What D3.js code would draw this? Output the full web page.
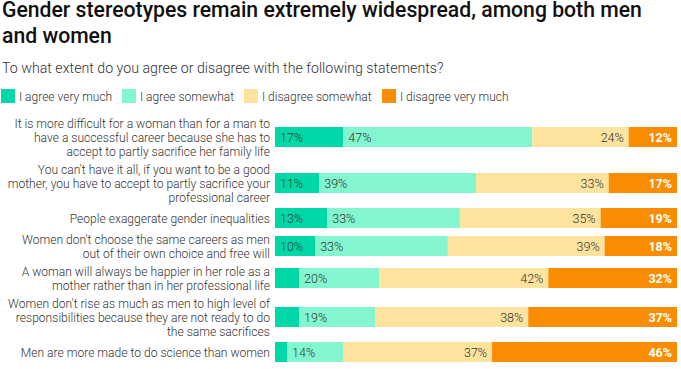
<!DOCTYPE html>
<html>
<head>
<meta charset="utf-8">
<script src="https://cdn.jsdelivr.net/npm/d3@7"></script>
<style>
  html, body { margin: 0; padding: 0; background: #fff; }
  svg { display: block; font-family: Roboto, "Noto Sans", sans-serif; }
</style>
</head>
<body>
<svg id="chart" width="681" height="369"></svg>
<script>
const title = ["Gender stereotypes remain extremely widespread, among both men", "and women"];
const subtitle = "To what extent do you agree or disagree with the following statements?";

const seriesNames = ["I agree very much", "I agree somewhat", "I disagree somewhat", "I disagree very much"];
const seriesColors = ["#00d9a7", "#83f5cf", "#fde39d", "#f98c00"];

const categories = [
  "It is more difficult for a woman than for a man to\nhave a successful career because she has to\naccept to partly sacrifice her family life",
  "You can't have it all, if you want to be a good\nmother, you have to accept to partly sacrifice your\nprofessional career",
  "People exaggerate gender inequalities",
  "Women don't choose the same careers as men\nout of their own choice and free will",
  "A woman will always be happier in her role as a\nmother rather than in her professional life",
  "Women don't rise as much as men to high level of\nresponsibilities because they are not ready to do\nthe same sacrifices",
  "Men are more made to do science than women"
];

const agreeVeryMuch     = [17, 11, 13, 10, 6, 6, 3];
const agreeSomewhat     = [47, 39, 33, 33, 20, 19, 14];
const disagreeSomewhat  = [24, 33, 35, 39, 42, 38, 37];
const disagreeVeryMuch  = [12, 17, 19, 18, 32, 37, 46];

const seriesValues = [agreeVeryMuch, agreeSomewhat, disagreeSomewhat, disagreeVeryMuch];

const svg = d3.select("#chart");

// Title
const t = svg.append("text").attr("font-size", 21.2).attr("font-weight", 500).attr("fill", "#111");
title.forEach((line, i) => {
  t.append("tspan").attr("x", 2).attr("y", 17 + i * 26).text(line);
});

// Subtitle
svg.append("text")
  .attr("x", 2).attr("y", 73)
  .attr("font-size", 14.2).attr("font-weight", 300).attr("fill", "#333")
  .text(subtitle);

// Legend
const legendX = [1, 122, 244, 382];
const lg = svg.append("g").selectAll("g").data(seriesNames).join("g")
  .attr("transform", (d, i) => `translate(${legendX[i]},89)`);
lg.append("rect").attr("width", 14).attr("height", 14).attr("fill", (d, i) => seriesColors[i]);
lg.append("text").attr("x", 18).attr("y", 11.5)
  .attr("font-size", 12).attr("font-weight", 300).attr("fill", "#333").text(d => d);

// Rows layout
const lineH = 14, barH = 20, pad = 4;
const rows = categories.map((c, i) => {
  const lines = c.split("\n");
  return { i, lines, h: Math.max(barH, lines.length * lineH) + pad };
});
let yAcc = 114;
rows.forEach(r => { r.top = yAcc; r.cy = yAcc + r.h / 2; yAcc += r.h; });

const x = d3.scaleLinear().domain([0, 100]).range([275, 677]);

// Stack
const table = categories.map((c, i) => {
  const o = { cat: c };
  seriesNames.forEach((s, k) => o[s] = seriesValues[k][i]);
  return o;
});
const stacked = d3.stack().keys(seriesNames)(table);

// Row labels
const labelG = svg.append("g");
rows.forEach(r => {
  const tx = labelG.append("text")
    .attr("text-anchor", "end").attr("font-size", 12.1).attr("font-weight", 300).attr("fill", "#333");
  const n = r.lines.length;
  r.lines.forEach((ln, j) => {
    tx.append("tspan").attr("x", 270)
      .attr("y", r.cy + (j - (n - 1) / 2) * lineH + 5)
      .text(ln);
  });
});

// Bars
const layers = svg.append("g").selectAll("g").data(stacked).join("g")
  .attr("fill", (d, k) => seriesColors[k]);
layers.selectAll("rect").data(d => d).join("rect")
  .attr("x", d => x(d[0]))
  .attr("width", d => x(d[1]) - x(d[0]))
  .attr("y", (d, i) => rows[i].cy - barH / 2)
  .attr("height", barH);

// Value labels
stacked.forEach((layer, k) => {
  layer.forEach((d, i) => {
    const v = d[1] - d[0];
    const w = x(d[1]) - x(d[0]);
    if (w < 32) return;
    const right = k >= 2;
    svg.append("text")
      .attr("x", right ? x(d[1]) - 5 : x(d[0]) + 5)
      .attr("y", rows[i].cy + 4.5)
      .attr("text-anchor", right ? "end" : "start")
      .attr("font-size", 12.5)
      .attr("font-weight", k === 3 ? 700 : 300)
      .attr("fill", k === 3 ? "#fff" : "#333")
      .text(v + "%");
  });
});
</script>
</body>
</html>
